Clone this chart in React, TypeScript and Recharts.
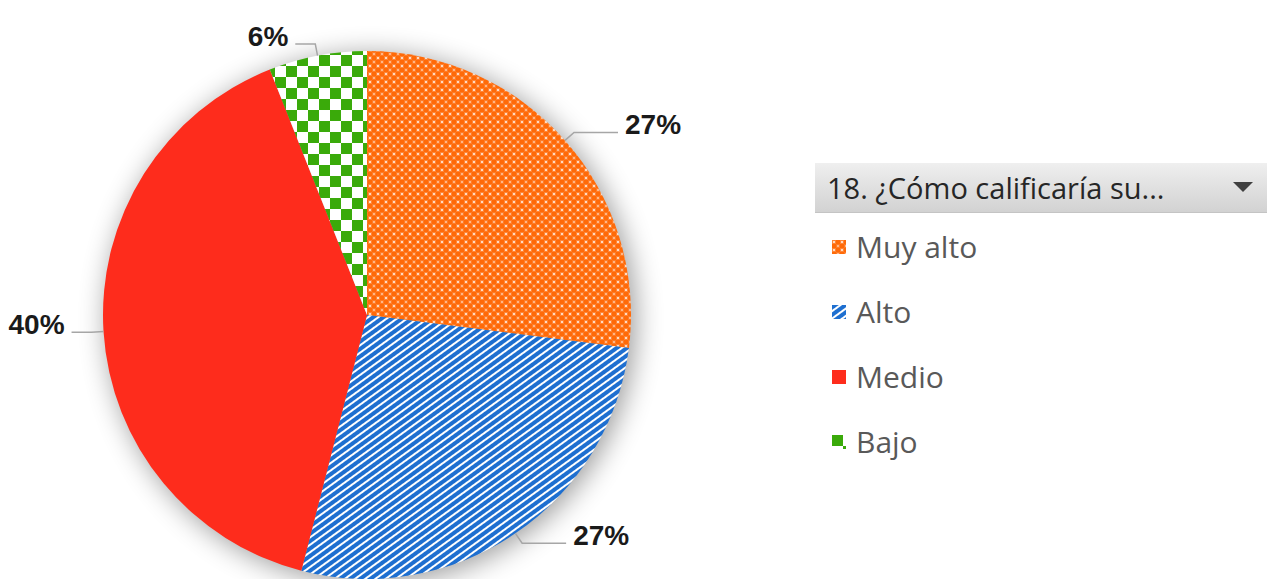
import React from "react";
import { PieChart, Pie, Cell, Legend } from "recharts";

const categories = ["Muy alto", "Alto", "Medio", "Bajo"];
const percentages = [27, 27, 40, 6];
const legendTitle = "18. ¿Cómo calificaría su...";

const fills = ["url(#dotsOrange)", "url(#stripesBlue)", "#FE2C1C", "url(#checkGreen)"];

const data = categories.map((name, i) => ({ name, value: percentages[i] }));

const RADIAN = Math.PI / 180;

// leader line + bold percent label outside each slice
const renderLabel = (props: any) => {
  const { cx, cy, midAngle, outerRadius, value } = props;
  const cos = Math.cos(-midAngle * RADIAN);
  const sin = Math.sin(-midAngle * RADIAN);
  const sx = cx + outerRadius * cos;
  const sy = cy + outerRadius * sin;
  const mx = cx + (outerRadius + 12) * cos;
  const my = cy + (outerRadius + 12) * sin;
  const right = cos >= 0;
  const ex = mx + (right ? 44 : -20);
  return (
    <g>
      <polyline
        points={`${sx},${sy} ${mx},${my} ${ex},${my}`}
        fill="none"
        stroke="#a6a6a6"
        strokeWidth={1.5}
      />
      <text
        x={ex + (right ? 7 : -7)}
        y={my}
        dy={2}
        textAnchor={right ? "start" : "end"}
        fill="#1a1a1a"
        fontSize={28}
        fontWeight="bold"
        fontFamily="'Liberation Sans', Arial, sans-serif"
      >
        {`${value}%`}
      </text>
    </g>
  );
};

const LegendBox = () => (
  <div style={{ width: 452, fontFamily: "'Open Sans', sans-serif" }}>
    <div
      style={{
        height: 50,
        background: "linear-gradient(#efefef, #d2d2d2)",
        borderBottom: "1px solid #c4c4c4",
        display: "flex",
        alignItems: "center",
        justifyContent: "space-between",
        padding: "0 14px 0 12px",
        boxSizing: "border-box",
        color: "#262626",
        fontSize: 29,
      }}
    >
      <span>{legendTitle}</span>
      <svg width={20} height={12}>
        <polygon points="0,0 20,0 10,10" fill="#404040" />
      </svg>
    </div>
    {categories.map((c, i) => (
      <div
        key={c}
        style={{
          height: 65,
          display: "flex",
          alignItems: "center",
          paddingLeft: 17,
          marginTop: i === 0 ? 1 : 0,
          color: "#595959",
          fontSize: 30,
        }}
      >
        <svg width={14} height={14} style={{ marginRight: 10 }}>
          <rect width={14} height={14} fill={fills[i]} />
        </svg>
        <span>{c}</span>
      </div>
    ))}
  </div>
);

export default function App() {
  return (
    <div style={{ width: 1270, height: 579, background: "#fff" }}>
      <style>{"body{margin:0}"}</style>
      <PieChart width={1270} height={579} margin={{ top: 0, right: 0, bottom: 0, left: 0 }}>
        <defs>
          <pattern id="dotsOrange" width={8} height={8} patternUnits="userSpaceOnUse">
            <rect width={8} height={8} fill="#FF6A08" />
            <rect x={0} y={0} width={4} height={4} fill="#fff" opacity={0.18} />
            <rect x={1} y={1} width={2} height={2} fill="#fff" opacity={0.7} />
            <rect x={4} y={4} width={4} height={4} fill="#fff" opacity={0.12} />
            <rect x={5} y={5} width={2} height={2} fill="#fff" opacity={0.45} />
          </pattern>
          <pattern
            id="stripesBlue"
            width={6}
            height={6}
            patternUnits="userSpaceOnUse"
            patternTransform="rotate(-36)"
          >
            <rect width={6} height={6} fill="#ffffff" />
            <rect width={6} height={4} fill="#1E6FD0" />
          </pattern>
          <pattern id="checkGreen" width={22} height={22} patternUnits="userSpaceOnUse">
            <rect width={22} height={22} fill="#ffffff" />
            <rect width={11} height={11} fill="#3AAA0A" />
            <rect x={11} y={11} width={11} height={11} fill="#3AAA0A" />
          </pattern>
          <filter id="pieShadow" x="-20%" y="-20%" width="140%" height="140%">
            <feGaussianBlur in="SourceAlpha" stdDeviation={14} />
            <feOffset dx={4} dy={4} result="blur" />
            <feComponentTransfer>
              <feFuncA type="linear" slope={0.4} />
            </feComponentTransfer>
          </filter>
        </defs>
        {/* shadow disc behind the pie */}
        <Pie
          data={[{ name: "shadow", value: 1 }]}
          dataKey="value"
          cx={367}
          cy={315}
          outerRadius={264}
          startAngle={90}
          endAngle={-270}
          stroke="none"
          fill="#000"
          style={{ filter: "url(#pieShadow)" }}
          isAnimationActive={false}
          legendType="none"
        />
        <Pie
          data={data}
          dataKey="value"
          nameKey="name"
          cx={367}
          cy={315}
          outerRadius={264}
          startAngle={90}
          endAngle={-270}
          stroke="none"
          label={renderLabel}
          labelLine={false}
          isAnimationActive={false}
        >
          {data.map((d, i) => (
            <Cell key={d.name} fill={fills[i]} />
          ))}
        </Pie>
        <Legend
          content={<LegendBox />}
          wrapperStyle={{ position: "absolute", left: 815, top: 163, width: 452 }}
        />
      </PieChart>
    </div>
  );
}
